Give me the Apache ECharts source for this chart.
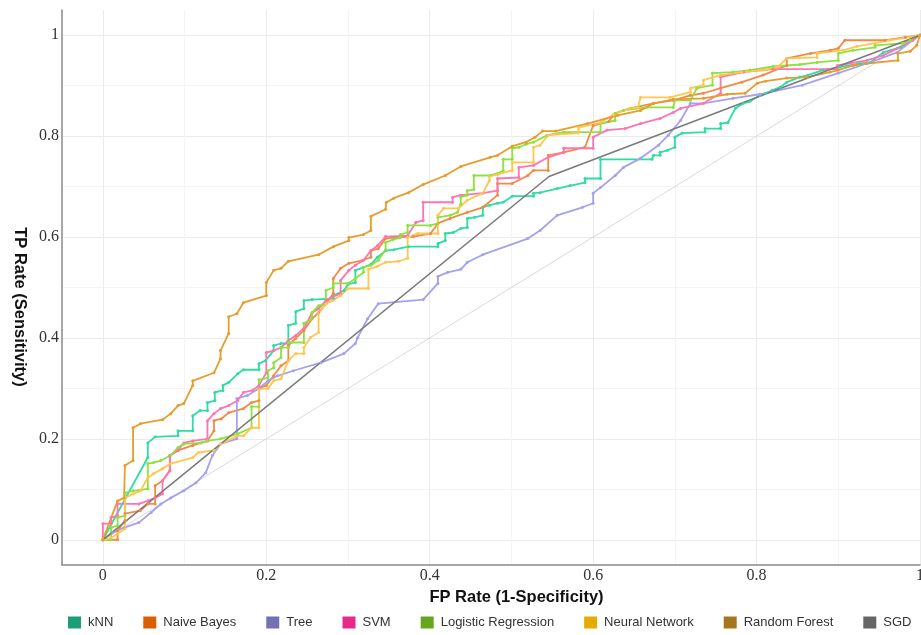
<!DOCTYPE html>
<html>
<head>
<meta charset="utf-8">
<title>ROC curves</title>
<script src="https://cdn.jsdelivr.net/npm/echarts@6/dist/echarts.min.js"></script>
<style>
  html, body { margin: 0; padding: 0; background: #ffffff; }
  #chart { width: 921px; height: 635px; }
</style>
</head>
<body>
<div id="chart"></div>
<script>
// ROC points per model: [false positive rate, true positive rate]
const knnRoc = [[0,0],[0.055,0.163],[0.055,0.192],[0.064,0.204],[0.092,0.206],[0.092,0.216],[0.110,0.216],[0.110,0.246],[0.119,0.256],[0.128,0.256],[0.128,0.272],[0.137,0.276],[0.137,0.292],[0.147,0.296],[0.147,0.306],[0.154,0.312],[0.165,0.329],[0.172,0.337],[0.191,0.337],[0.191,0.349],[0.199,0.355],[0.209,0.375],[0.209,0.385],[0.218,0.389],[0.227,0.389],[0.227,0.425],[0.236,0.429],[0.236,0.452],[0.246,0.458],[0.246,0.474],[0.256,0.476],[0.282,0.478],[0.282,0.484],[0.295,0.494],[0.300,0.506],[0.309,0.510],[0.309,0.534],[0.319,0.540],[0.328,0.546],[0.336,0.560],[0.346,0.573],[0.356,0.575],[0.374,0.581],[0.410,0.581],[0.410,0.587],[0.419,0.593],[0.419,0.607],[0.429,0.609],[0.438,0.617],[0.446,0.619],[0.446,0.637],[0.455,0.639],[0.465,0.643],[0.465,0.659],[0.473,0.663],[0.483,0.667],[0.490,0.669],[0.501,0.681],[0.527,0.681],[0.527,0.687],[0.535,0.688],[0.556,0.696],[0.572,0.702],[0.590,0.708],[0.590,0.716],[0.609,0.716],[0.609,0.754],[0.672,0.754],[0.674,0.762],[0.682,0.762],[0.682,0.768],[0.691,0.772],[0.700,0.778],[0.700,0.798],[0.709,0.806],[0.737,0.808],[0.737,0.815],[0.756,0.815],[0.756,0.825],[0.765,0.827],[0.774,0.855],[0.784,0.865],[0.792,0.869],[0.804,0.881],[0.811,0.885],[0.819,0.891],[0.829,0.897],[0.837,0.907],[0.853,0.917],[0.863,0.921],[0.881,0.931],[0.902,0.937],[0.927,0.944],[0.939,0.946],[0.955,0.966],[0.976,0.976],[1,1]];

const naiveBayesRoc = [[0,0],[0.018,0],[0.018,0.018],[0.027,0.038],[0.027,0.052],[0.046,0.058],[0.055,0.071],[0.064,0.071],[0.064,0.107],[0.073,0.117],[0.082,0.137],[0.082,0.167],[0.092,0.177],[0.110,0.187],[0.128,0.196],[0.136,0.216],[0.136,0.236],[0.145,0.240],[0.154,0.252],[0.172,0.260],[0.182,0.272],[0.191,0.276],[0.191,0.300],[0.200,0.306],[0.209,0.325],[0.218,0.345],[0.227,0.355],[0.227,0.385],[0.236,0.399],[0.246,0.415],[0.256,0.438],[0.264,0.450],[0.273,0.468],[0.282,0.488],[0.282,0.518],[0.291,0.538],[0.301,0.548],[0.318,0.554],[0.328,0.560],[0.328,0.573],[0.337,0.577],[0.346,0.597],[0.356,0.599],[0.380,0.601],[0.401,0.607],[0.410,0.627],[0.425,0.637],[0.446,0.649],[0.465,0.659],[0.483,0.683],[0.483,0.706],[0.501,0.706],[0.520,0.722],[0.527,0.732],[0.545,0.732],[0.545,0.762],[0.564,0.768],[0.590,0.778],[0.600,0.821],[0.619,0.829],[0.627,0.845],[0.645,0.855],[0.674,0.865],[0.698,0.871],[0.719,0.881],[0.735,0.885],[0.756,0.895],[0.782,0.907],[0.808,0.921],[0.837,0.940],[0.837,0.954],[0.866,0.964],[0.890,0.970],[0.900,0.974],[0.908,0.990],[0.957,0.990],[0.982,0.996],[1,1]];

const treeRoc = [[0,0],[0.012,0.014],[0.026,0.024],[0.044,0.034],[0.059,0.054],[0.071,0.071],[0.083,0.083],[0.099,0.097],[0.114,0.113],[0.126,0.133],[0.134,0.167],[0.144,0.190],[0.164,0.200],[0.164,0.280],[0.177,0.286],[0.191,0.300],[0.202,0.315],[0.214,0.325],[0.233,0.335],[0.267,0.351],[0.295,0.369],[0.309,0.389],[0.312,0.401],[0.324,0.438],[0.337,0.468],[0.392,0.476],[0.410,0.508],[0.410,0.522],[0.422,0.530],[0.438,0.536],[0.446,0.550],[0.465,0.565],[0.520,0.597],[0.535,0.613],[0.556,0.643],[0.587,0.659],[0.600,0.667],[0.600,0.687],[0.609,0.698],[0.627,0.722],[0.637,0.738],[0.658,0.756],[0.680,0.782],[0.692,0.802],[0.707,0.831],[0.719,0.865],[0.735,0.865],[0.771,0.875],[0.804,0.883],[0.856,0.901],[0.900,0.925],[0.935,0.944],[0.972,0.966],[0.991,0.990],[1,1]];

const svmRoc = [[0,0],[0,0.032],[0.010,0.032],[0.010,0.044],[0.018,0.048],[0.018,0.071],[0.044,0.071],[0.055,0.077],[0.064,0.083],[0.073,0.091],[0.073,0.117],[0.082,0.137],[0.082,0.167],[0.092,0.177],[0.099,0.192],[0.110,0.196],[0.128,0.200],[0.128,0.236],[0.136,0.250],[0.144,0.260],[0.154,0.266],[0.165,0.276],[0.172,0.292],[0.183,0.296],[0.191,0.306],[0.200,0.331],[0.200,0.371],[0.209,0.375],[0.218,0.381],[0.227,0.395],[0.236,0.405],[0.246,0.419],[0.256,0.450],[0.264,0.458],[0.273,0.474],[0.282,0.482],[0.291,0.488],[0.291,0.514],[0.301,0.534],[0.309,0.544],[0.319,0.554],[0.328,0.573],[0.336,0.583],[0.346,0.601],[0.373,0.603],[0.383,0.629],[0.392,0.633],[0.392,0.669],[0.428,0.669],[0.428,0.679],[0.438,0.683],[0.465,0.687],[0.483,0.692],[0.483,0.716],[0.509,0.718],[0.509,0.738],[0.527,0.742],[0.545,0.758],[0.564,0.768],[0.564,0.776],[0.600,0.776],[0.600,0.798],[0.617,0.812],[0.639,0.815],[0.658,0.825],[0.682,0.835],[0.698,0.847],[0.707,0.855],[0.735,0.865],[0.756,0.885],[0.756,0.917],[0.784,0.927],[0.820,0.933],[0.899,0.933],[0.899,0.940],[0.935,0.950],[0.955,0.960],[0.972,0.974],[0.991,0.990],[1,1]];

const logisticRoc = [[0,0],[0.010,0],[0.010,0.024],[0.018,0.028],[0.018,0.044],[0.027,0.048],[0.027,0.093],[0.037,0.097],[0.055,0.101],[0.055,0.151],[0.062,0.153],[0.071,0.157],[0.083,0.167],[0.092,0.183],[0.099,0.190],[0.120,0.192],[0.128,0.196],[0.144,0.200],[0.165,0.210],[0.182,0.222],[0.182,0.264],[0.191,0.264],[0.191,0.317],[0.202,0.321],[0.202,0.335],[0.209,0.341],[0.209,0.351],[0.218,0.361],[0.218,0.381],[0.227,0.381],[0.227,0.391],[0.246,0.391],[0.246,0.429],[0.256,0.438],[0.256,0.450],[0.264,0.464],[0.273,0.468],[0.273,0.494],[0.282,0.500],[0.282,0.508],[0.300,0.508],[0.309,0.518],[0.319,0.530],[0.319,0.540],[0.328,0.544],[0.337,0.554],[0.346,0.575],[0.346,0.589],[0.355,0.595],[0.364,0.599],[0.364,0.605],[0.373,0.609],[0.373,0.623],[0.401,0.623],[0.410,0.627],[0.410,0.639],[0.425,0.643],[0.434,0.649],[0.438,0.665],[0.438,0.679],[0.446,0.683],[0.446,0.692],[0.454,0.694],[0.454,0.722],[0.474,0.722],[0.483,0.726],[0.490,0.732],[0.490,0.754],[0.501,0.754],[0.501,0.776],[0.509,0.778],[0.518,0.784],[0.527,0.788],[0.544,0.802],[0.564,0.808],[0.609,0.808],[0.609,0.825],[0.627,0.831],[0.627,0.845],[0.637,0.851],[0.665,0.857],[0.698,0.857],[0.700,0.871],[0.719,0.871],[0.727,0.895],[0.746,0.901],[0.746,0.925],[0.771,0.927],[0.792,0.931],[0.820,0.938],[0.853,0.942],[0.874,0.946],[0.900,0.950],[0.900,0.964],[0.918,0.970],[0.945,0.976],[0.945,0.980],[0.979,0.984],[0.988,0.990],[1,1]];

const neuralNetRoc = [[0,0],[0.010,0.004],[0.018,0.012],[0.027,0.022],[0.027,0.083],[0.037,0.091],[0.046,0.097],[0.055,0.123],[0.062,0.131],[0.073,0.141],[0.083,0.151],[0.110,0.163],[0.117,0.173],[0.136,0.177],[0.144,0.190],[0.165,0.206],[0.172,0.206],[0.182,0.222],[0.191,0.222],[0.191,0.298],[0.202,0.300],[0.209,0.315],[0.218,0.319],[0.227,0.355],[0.236,0.369],[0.246,0.369],[0.246,0.381],[0.254,0.401],[0.264,0.411],[0.264,0.448],[0.273,0.468],[0.281,0.474],[0.291,0.484],[0.300,0.498],[0.325,0.498],[0.325,0.536],[0.336,0.542],[0.346,0.550],[0.362,0.552],[0.373,0.558],[0.373,0.599],[0.385,0.607],[0.410,0.607],[0.410,0.643],[0.417,0.657],[0.435,0.657],[0.446,0.673],[0.465,0.687],[0.473,0.712],[0.473,0.720],[0.483,0.724],[0.501,0.732],[0.501,0.748],[0.527,0.748],[0.527,0.778],[0.535,0.782],[0.545,0.802],[0.582,0.806],[0.582,0.817],[0.609,0.827],[0.625,0.843],[0.645,0.855],[0.655,0.857],[0.658,0.877],[0.694,0.877],[0.719,0.887],[0.719,0.895],[0.735,0.901],[0.735,0.911],[0.756,0.921],[0.782,0.927],[0.808,0.931],[0.826,0.937],[0.837,0.954],[0.874,0.956],[0.874,0.964],[0.906,0.970],[0.923,0.978],[0.963,0.990],[1,1]];

const randomForestRoc = [[0,0],[0.018,0.077],[0.026,0.083],[0.027,0.147],[0.037,0.157],[0.037,0.222],[0.046,0.230],[0.073,0.238],[0.083,0.250],[0.092,0.266],[0.099,0.270],[0.110,0.306],[0.110,0.315],[0.136,0.331],[0.144,0.359],[0.144,0.375],[0.154,0.409],[0.154,0.442],[0.164,0.448],[0.172,0.470],[0.200,0.484],[0.200,0.510],[0.209,0.534],[0.218,0.538],[0.227,0.552],[0.264,0.565],[0.282,0.581],[0.301,0.593],[0.301,0.599],[0.319,0.605],[0.328,0.613],[0.328,0.641],[0.346,0.655],[0.347,0.669],[0.356,0.677],[0.374,0.688],[0.392,0.704],[0.419,0.722],[0.438,0.740],[0.474,0.758],[0.483,0.762],[0.501,0.780],[0.518,0.788],[0.529,0.798],[0.538,0.810],[0.554,0.810],[0.593,0.825],[0.630,0.841],[0.658,0.851],[0.674,0.865],[0.698,0.873],[0.735,0.875],[0.764,0.883],[0.786,0.885],[0.801,0.905],[0.811,0.909],[0.837,0.915],[0.862,0.917],[0.890,0.927],[0.900,0.931],[0.918,0.940],[0.935,0.944],[0.973,0.950],[0.973,0.964],[0.988,0.968],[0.996,0.980],[1,1]];

const sgdRoc = [[0,0],[0.546,0.720],[1,1]];

const chanceLine = [[0,0],[1,1]];

const modelNames = ['kNN', 'Naive Bayes', 'Tree', 'SVM', 'Logistic Regression', 'Neural Network', 'Random Forest', 'SGD'];
const modelCurves = [knnRoc, naiveBayesRoc, treeRoc, svmRoc, logisticRoc, neuralNetRoc, randomForestRoc, sgdRoc];
const legendColors = ['#1b9e77', '#d95f02', '#7570b3', '#e7298a', '#66a61e', '#e6ab02', '#a6761d', '#666666'];
const curveColors = ['#2fdca3', '#f28a45', '#a4a1ee', '#ff74b2', '#8ee23c', '#ffc650', '#e69d2e', '#7a7a7a'];

const gridTicks = [0, 0.1, 0.2, 0.3, 0.4, 0.5, 0.6, 0.7, 0.8, 0.9, 1];
const labelTicks = [0, 0.2, 0.4, 0.6, 0.8, 1];

const serifFont = '"Liberation Serif", "DejaVu Serif", serif';
const sansFont = '"Liberation Sans", Arial, sans-serif';

const chart = echarts.init(document.getElementById('chart'), null, { renderer: 'canvas' });

function axisCommon(labelMargin) {
  return {
    type: 'value',
    axisLine: { show: true, onZero: false, lineStyle: { color: '#8a8a8a', width: 1.5 } },
    axisTick: { show: false, customValues: gridTicks },
    axisLabel: {
      customValues: labelTicks,
      margin: labelMargin,
      fontFamily: serifFont,
      fontSize: 16,
      color: '#333333',
      formatter: v => String(Math.round(v * 10) / 10)
    },
    splitLine: {
      show: true,
      lineStyle: { color: ['#ebebeb', '#f4f4f4'], width: 1 }
    }
  };
}

const series = modelNames.map((name, i) => ({
  name: name,
  type: 'line',
  data: modelCurves[i],
  showSymbol: i !== 7,
  showAllSymbol: true,
  symbol: 'circle',
  symbolSize: 3,
  lineStyle: { color: curveColors[i], width: i === 7 ? 1.6 : 1.8 },
  itemStyle: { color: curveColors[i] },
  emphasis: { disabled: true },
  animation: false,
  z: 3
}));

series.unshift({
  name: 'chance',
  type: 'line',
  data: chanceLine,
  showSymbol: false,
  lineStyle: { color: '#cfcfcf', width: 0.8 },
  emphasis: { disabled: true },
  animation: false,
  z: 2
});

chart.setOption({
  animation: false,
  grid: { left: 62, right: 1, top: 10, bottom: 70, containLabel: false, outerBoundsMode: 'none' },
  xAxis: Object.assign(axisCommon(3), {
    min: -0.05,
    max: 1,
    name: 'FP Rate (1-Specificity)',
    nameLocation: 'middle',
    nameGap: 19,
    nameTextStyle: { fontFamily: sansFont, fontWeight: 'bold', fontSize: 16.5, color: '#111111', padding: [0, 0, 0, 51] }
  }),
  yAxis: Object.assign(axisCommon(3), {
    min: -0.05,
    max: 1.05,
    name: 'TP Rate (Sensitivity)',
    nameLocation: 'middle',
    nameRotate: -90,
    nameGap: 34,
    nameTextStyle: { fontFamily: sansFont, fontWeight: 'bold', fontSize: 16.5, color: '#111111', padding: [0, 0, 0, 39] }
  }),
  legend: {
    top: 616,
    left: 68,
    padding: 0,
    itemWidth: 13,
    itemHeight: 12,
    itemGap: 30,
    icon: 'rect',
    textStyle: { fontFamily: sansFont, fontSize: 13, color: '#333333', padding: [0, 0, 0, 2] },
    data: modelNames.map((n, i) => ({ name: n, icon: 'rect', itemStyle: { color: legendColors[i] } }))
  },
  series: series
});
</script>
</body>
</html>
